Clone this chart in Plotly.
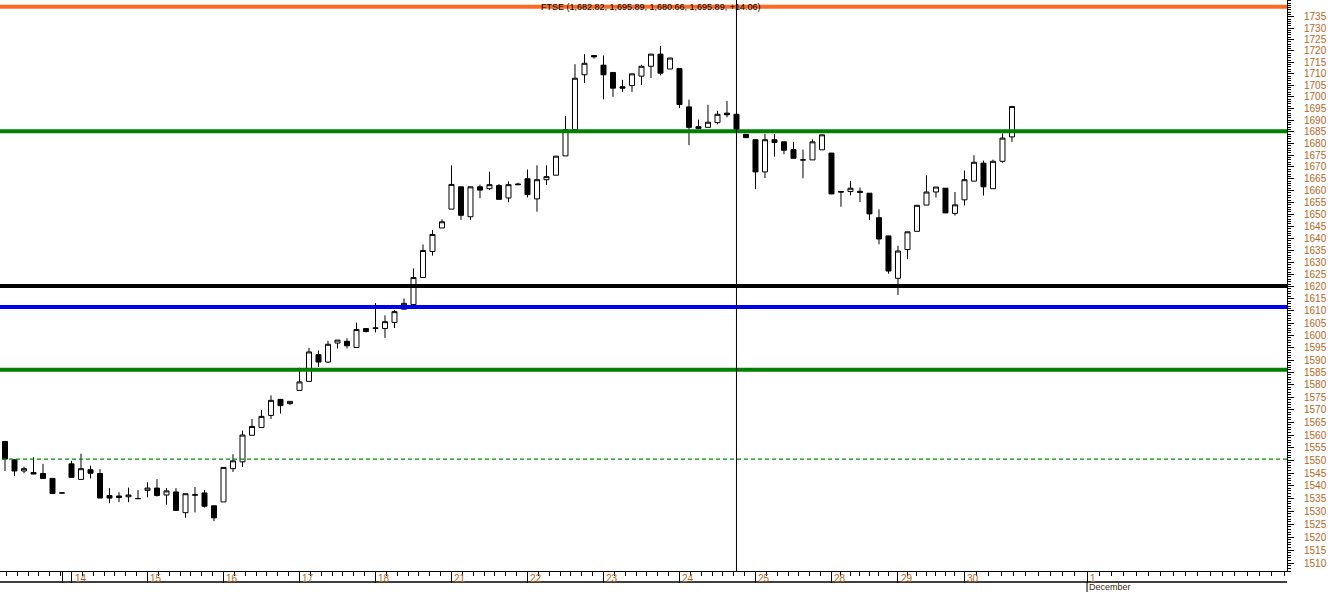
import math

import plotly.graph_objects as go

# hourly FTSE candles, 11 Nov (partial) .. 30 Nov
opens = [
    1557.4, 1550.2, 1545.8, 1545.2, 1544.8, 1542.9, 1537.2,
    1548.6, 1542.5, 1546.3, 1544.8, 1536.2, 1536.0, 1535.7, 1535.0,
    1538.2, 1539.1, 1536.4, 1537.6, 1529.5, 1536.3, 1537.2, 1532.2,
    1533.7, 1546.7, 1549.4, 1559.9, 1563.0, 1567.8, 1574.2, 1572.5,
    1577.8, 1581.4, 1592.2, 1589.2, 1596.9, 1597.6, 1595.1, 1602.8,
    1603.1, 1602.8, 1605.3, 1610.7, 1612.6, 1623.7, 1634.5, 1644.3,
    1652.2, 1661.6, 1649.0, 1661.6, 1660.8, 1662.1, 1656.9, 1662.8,
    1665.0, 1656.5, 1664.6, 1666.5, 1674.7, 1685.9, 1709.6, 1718.0,
    1713.8, 1710.6, 1704.4, 1704.9, 1709.0, 1713.3, 1718.6, 1712.1,
    1712.3, 1695.7, 1687.2, 1686.9, 1688.9, 1693.0, 1692.5, 1683.9,
    1681.6, 1667.9, 1681.6, 1680.7, 1677.4, 1673.0, 1673.0, 1677.3,
    1675.9, 1659.6, 1659.6, 1659.7, 1658.9, 1648.6, 1641.0,
    1623.4, 1635.3, 1642.9, 1653.9, 1659.4, 1661.0, 1650.4,
    1656.1, 1664.0, 1671.6, 1660.8, 1672.4, 1682.82,
]
highs = [
    1557.4, 1550.2, 1547.5, 1551.2, 1548.6, 1542.9, 1537.2,
    1549.8, 1552.6, 1547.9, 1546.5, 1539.1, 1537.5, 1539.3, 1538.3,
    1541.4, 1542.6, 1539.1, 1539.1, 1536.9, 1539.5, 1538.3, 1532.2,
    1547.2, 1552.4, 1561.8, 1566.4, 1570.0, 1575.8, 1574.2, 1573.4,
    1586.9, 1595.0, 1593.9, 1597.8, 1598.1, 1598.8, 1605.2, 1602.8,
    1613.2, 1608.2, 1610.4, 1615.1, 1627.5, 1637.4, 1643.5, 1647.9,
    1670.7, 1661.6, 1661.6, 1662.5, 1668.0, 1662.8, 1663.9, 1663.3,
    1668.9, 1670.7, 1670.7, 1674.6, 1691.8, 1714.2, 1718.6, 1718.0,
    1718.0, 1710.6, 1707.4, 1710.0, 1714.0, 1718.6, 1722.2, 1716.9,
    1712.3, 1698.8, 1690.2, 1696.6, 1694.0, 1698.3, 1692.5, 1683.9,
    1681.6, 1684.1, 1684.1, 1680.7, 1680.7, 1677.4, 1681.8, 1683.7,
    1675.9, 1659.6, 1664.1, 1661.3, 1658.9, 1652.1, 1641.0,
    1636.9, 1642.7, 1653.8, 1666.5, 1661.5, 1661.0, 1659.4,
    1668.5, 1675.0, 1672.7, 1673.1, 1684.3, 1695.89,
]
lows = [
    1545.8, 1543.8, 1544.9, 1544.6, 1542.9, 1537.0, 1537.2,
    1543.3, 1542.5, 1542.9, 1535.2, 1533.2, 1533.6, 1533.6, 1535.0,
    1535.5, 1535.8, 1532.6, 1530.4, 1527.5, 1529.6, 1531.5, 1526.2,
    1533.7, 1545.4, 1547.4, 1559.9, 1563.0, 1566.4, 1568.5, 1572.0,
    1577.8, 1581.4, 1587.2, 1588.8, 1594.7, 1594.7, 1595.1, 1601.2,
    1601.2, 1599.0, 1603.0, 1610.7, 1612.6, 1623.7, 1632.8, 1644.3,
    1652.2, 1647.7, 1647.7, 1656.8, 1660.2, 1656.3, 1655.1, 1662.5,
    1657.1, 1651.1, 1662.4, 1666.5, 1674.7, 1685.9, 1706.0, 1716.6,
    1699.0, 1700.0, 1702.2, 1702.2, 1705.2, 1708.2, 1709.4, 1712.1,
    1695.2, 1679.3, 1686.4, 1686.9, 1688.2, 1691.2, 1685.9, 1682.5,
    1660.6, 1665.3, 1674.4, 1675.4, 1673.7, 1665.2, 1673.0, 1677.3,
    1658.5, 1653.2, 1658.0, 1655.2, 1647.7, 1637.5, 1625.3,
    1616.5, 1631.3, 1642.9, 1653.9, 1657.1, 1650.6, 1649.5,
    1653.8, 1664.0, 1657.9, 1660.8, 1671.8, 1680.66,
]
closes = [
    1550.5, 1545.8, 1546.7, 1544.6, 1542.9, 1537.0, 1537.2,
    1543.3, 1546.7, 1544.9, 1535.2, 1535.2, 1535.4, 1536.4, 1535.0,
    1539.1, 1536.2, 1538.0, 1530.4, 1536.9, 1536.5, 1532.0, 1527.5,
    1547.2, 1549.8, 1560.0, 1563.4, 1567.4, 1573.8, 1571.7, 1573.4,
    1581.2, 1593.3, 1589.2, 1596.4, 1598.1, 1595.8, 1602.4, 1601.6,
    1602.8, 1605.6, 1609.7, 1613.1, 1623.7, 1634.9, 1641.6, 1646.9,
    1662.6, 1649.6, 1661.6, 1660.2, 1662.5, 1656.3, 1662.5, 1662.5,
    1658.3, 1664.6, 1665.9, 1674.6, 1685.9, 1708.1, 1714.6, 1717.4,
    1709.6, 1703.8, 1703.8, 1710.0, 1713.3, 1718.6, 1710.3, 1716.9,
    1696.7, 1686.9, 1686.4, 1689.1, 1692.5, 1692.3, 1685.9, 1682.5,
    1667.9, 1681.6, 1680.4, 1677.1, 1673.7, 1673.0, 1680.7, 1683.7,
    1658.6, 1659.4, 1661.0, 1659.2, 1650.2, 1639.7, 1626.4,
    1634.7, 1642.7, 1653.8, 1659.4, 1661.5, 1650.6, 1654.0,
    1664.6, 1672.0, 1661.6, 1672.4, 1682.3, 1695.89,
]

# first bar of each trading day and its label
day_starts = [7, 15, 23, 31, 39, 47, 55, 63, 71, 79, 87, 94, 101, 113.9]
day_labels = ["14", "15", "16", "17", "18", "21", "22", "23", "24", "25", "28", "29", "30", "1"]
month_start = 113.9
month_label = "December"

# drawn support / resistance levels
level_values = [1739.4, 1685.2, 1620.2, 1611.6, 1586.1]
level_colors = ["#FF6A21", "#008000", "#000000", "#0000F0", "#008000"]
dashed_level = 1550.5
cursor_bar = 77

title_text = "FTSE (1,682.82, 1,695.89, 1,680.66, 1,695.89, +14.06)"

x_range = [-0.526, 134.95]
y_range = [1507.0, 1742.4]
label_color = "#B5671E"
font_family = "Liberation Sans, Arial, sans-serif"

W, H = 1336, 592
M_R, M_B = 49, 21
plot_h = H - M_B

bars = list(range(len(opens)))

fig = go.Figure()
fig.add_trace(go.Candlestick(
    x=bars, open=opens, high=highs, low=lows, close=closes,
    increasing=dict(fillcolor="white", line=dict(color="black", width=1)),
    decreasing=dict(fillcolor="black", line=dict(color="black", width=1)),
    whiskerwidth=0,
    showlegend=False,
    hoverinfo="skip",
))

for val, col in zip(level_values, level_colors):
    fig.add_trace(go.Scatter(
        x=[x_range[0] - 2, x_range[1] + 2], y=[val, val], mode="lines",
        line=dict(color=col, width=4), showlegend=False, hoverinfo="skip",
    ))

fig.add_trace(go.Scatter(
    x=[x_range[0] - 2, x_range[1] + 2], y=[dashed_level, dashed_level], mode="lines",
    line=dict(color="#008C00", width=1.3, dash="4px,3px"), showlegend=False, hoverinfo="skip",
))

# crosshair
fig.add_trace(go.Scatter(
    x=[cursor_bar, cursor_bar], y=[1400, 1800], mode="lines",
    line=dict(color="black", width=1), showlegend=False, hoverinfo="skip",
))

# x axis ticks: day boundaries long, hourly short
bounds = [-1] + day_starts + [x_range[1] + 1]
minor_x = []
for a, b in zip(bounds[:-1], bounds[1:]):
    n = 7
    if b - a > 10:
        n = max(1, round((b - a) * 9.5 / 12.3))
    for k in range(1, n):
        minor_x.append(a + k * (b - a) / n)

major_x = [6] + day_starts

fig.update_xaxes(
    range=x_range, showgrid=False, zeroline=False,
    showline=True, linecolor="black", linewidth=1,
    ticks="outside", ticklen=11, tickcolor="black", tickwidth=1,
    tickmode="array", tickvals=major_x, showticklabels=False,
    minor=dict(tickmode="array", tickvals=minor_x, ticks="outside", ticklen=4,
               tickcolor="black", tickwidth=1),
    rangeslider=dict(visible=False),
)

major_y = list(range(1510, 1740, 5))
minor_y = list(range(1507, 1743))
fig.update_yaxes(
    type="log", range=[math.log10(y_range[0]), math.log10(y_range[1])],
    side="right", showgrid=False, zeroline=False,
    showline=True, linecolor="black", linewidth=1,
    ticks="outside", ticklen=6, tickcolor="black", tickwidth=1,
    tickmode="array", tickvals=major_y, ticktext=[str(v) for v in major_y],
    tickfont=dict(family=font_family, size=10, color=label_color),
    ticklabelstandoff=8,
    minor=dict(tickmode="array", tickvals=minor_y, ticks="outside", ticklen=3,
               tickcolor="black", tickwidth=1),
)

for d, lab in zip(day_starts, day_labels):
    fig.add_annotation(
        x=d, xref="x", y=0, yref="paper", yanchor="top", xanchor="left",
        text=lab, showarrow=False, xshift=1, yshift=0,
        font=dict(family=font_family, size=10, color=label_color),
    )

fig.add_annotation(
    x=month_start, xref="x", y=-11 / plot_h, yref="paper", yanchor="top", xanchor="left",
    text=month_label, showarrow=False, yshift=2,
    font=dict(family=font_family, size=9, color="#3A2A10"),
)

# second base line of the date strip and month marker
month_px = (month_start - x_range[0]) / (x_range[1] - x_range[0])
fig.add_shape(type="line", xref="paper", yref="paper", x0=0, x1=1,
              y0=-11 / plot_h, y1=-11 / plot_h, line=dict(color="black", width=1.5))
fig.add_shape(type="line", xref="paper", yref="paper", x0=month_px, x1=month_px,
              y0=-11 / plot_h, y1=-21 / plot_h, line=dict(color="black", width=1))

fig.add_annotation(
    x=650 / (W - M_R), xref="paper", y=1, yref="paper", yanchor="top", xanchor="center",
    text=title_text, showarrow=False, yshift=0,
    font=dict(family=font_family, size=9, color="black"),
)

fig.update_layout(
    width=W, height=H,
    margin=dict(l=0, r=M_R, t=0, b=M_B),
    plot_bgcolor="white", paper_bgcolor="white",
    boxgap=0.25,
    showlegend=False,
    font=dict(family=font_family),
)

# page body has a default 8px margin; drop it so the figure sits at the window corner
fig.write_html(
    "out.html",
    config={"displayModeBar": False},
    post_script="document.body.style.margin='0';",
)
